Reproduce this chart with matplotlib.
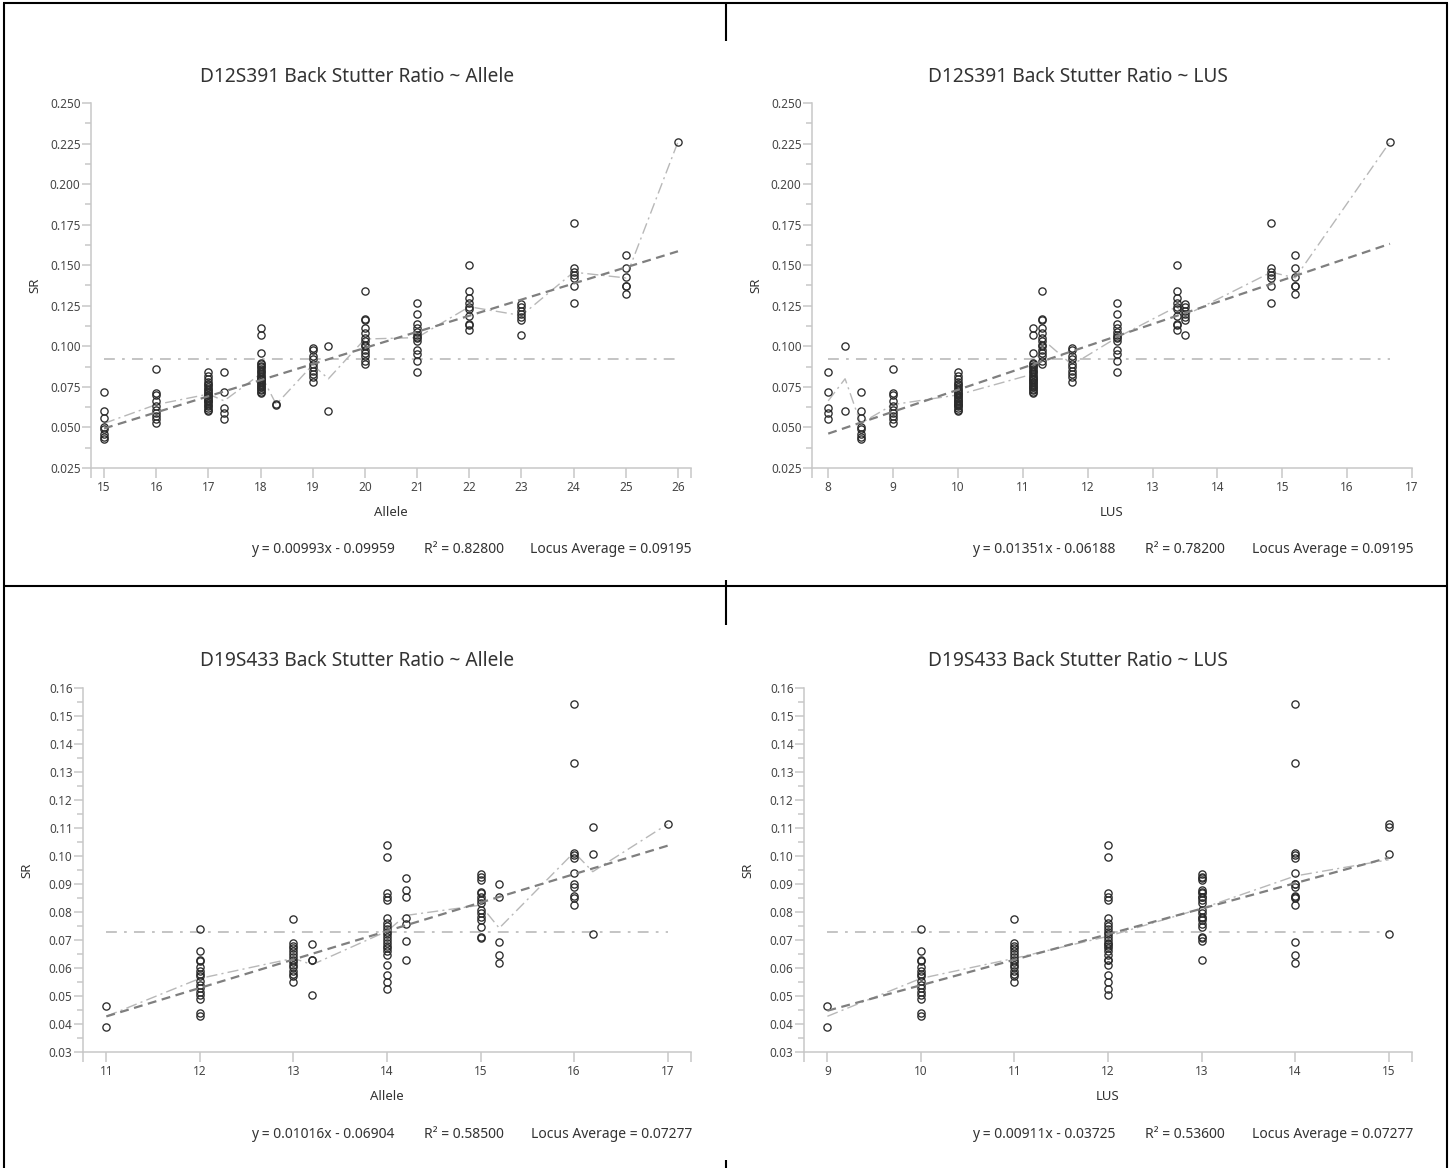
import matplotlib
matplotlib.use('Agg')
import matplotlib.pyplot as plt
from matplotlib.lines import Line2D
from matplotlib.ticker import MultipleLocator, FixedLocator, FormatStrFormatter
import numpy as np

plt.rcParams['font.family'] = ['Noto Sans', 'DejaVu Sans']

# ---------------- data ----------------
# D12S391
d12_alleles = [15, 16, 17, 17.3, 18, 18.3, 19, 19.3, 20, 21, 22, 23, 24, 25, 26]
d12_lus = [8.5, 9, 10, 8, 11.16, 10, 11.76, 8.26, 11.3, 12.45, 13.37, 13.5, 14.83, 15.2, 16.66]
d12_sr = [
    [0.072, 0.060, 0.056, 0.050, 0.049, 0.046, 0.044, 0.043],
    [0.086, 0.071, 0.070, 0.066, 0.063, 0.061, 0.059, 0.057, 0.055, 0.053],
    [0.084, 0.082, 0.080, 0.078, 0.077, 0.076, 0.075, 0.074, 0.073, 0.072, 0.071, 0.070,
     0.070, 0.069, 0.068, 0.067, 0.066, 0.066, 0.065, 0.064, 0.063, 0.062, 0.061, 0.060],
    [0.084, 0.072, 0.062, 0.059, 0.055],
    [0.111, 0.107, 0.096, 0.090, 0.089, 0.088, 0.087, 0.086, 0.085, 0.084, 0.083, 0.082, 0.081,
     0.080, 0.080, 0.079, 0.078, 0.078, 0.077, 0.076, 0.075, 0.075, 0.074, 0.073, 0.072, 0.071],
    [0.0645, 0.064],
    [0.099, 0.098, 0.094, 0.092, 0.089, 0.087, 0.085, 0.083, 0.081, 0.078],
    [0.100, 0.060],
    [0.134, 0.117, 0.116, 0.111, 0.108, 0.105, 0.103, 0.101, 0.100, 0.098, 0.096, 0.094, 0.091, 0.089],
    [0.127, 0.120, 0.114, 0.111, 0.109, 0.107, 0.106, 0.105, 0.103, 0.098, 0.095, 0.091, 0.084],
    [0.150, 0.134, 0.130, 0.127, 0.124, 0.123, 0.119, 0.114, 0.113, 0.110],
    [0.126, 0.124, 0.122, 0.120, 0.118, 0.116, 0.107],
    [0.176, 0.148, 0.146, 0.144, 0.142, 0.137, 0.127],
    [0.156, 0.148, 0.143, 0.137, 0.137, 0.132],
    [0.226],
]
d12_allele_fit = (0.00993, -0.09959, 0.82800)
d12_lus_fit = (0.01351, -0.06188, 0.78200)
d12_avg = 0.09195

# D19S433
d19_alleles = [11, 12, 13, 13.2, 14, 14.2, 15, 15.2, 16, 16.2, 17]
d19_lus = [9, 10, 11, 12, 12, 13, 13, 14, 14, 15, 15]
d19_sr = [
    [0.0465, 0.039],
    [0.074, 0.066, 0.063, 0.0625, 0.0605, 0.059, 0.058, 0.057, 0.0555, 0.054, 0.053, 0.0515,
     0.0505, 0.049, 0.044, 0.043],
    [0.0775, 0.069, 0.068, 0.067, 0.066, 0.065, 0.064, 0.063, 0.062, 0.061, 0.0605, 0.059,
     0.058, 0.057, 0.055],
    [0.0685, 0.063, 0.0628, 0.0505],
    [0.104, 0.0995, 0.0867, 0.0855, 0.0843, 0.0777, 0.076, 0.075, 0.074, 0.073, 0.072, 0.071,
     0.070, 0.069, 0.068, 0.067, 0.066, 0.0646, 0.061, 0.0575, 0.055, 0.0524],
    [0.092, 0.088, 0.0853, 0.0777, 0.0756, 0.0697, 0.063],
    [0.0935, 0.0926, 0.0914, 0.0873, 0.0867, 0.0855, 0.0843, 0.0831, 0.0807, 0.0795, 0.0783,
     0.0771, 0.0748, 0.0712, 0.0706],
    [0.090, 0.0855, 0.0694, 0.0646, 0.0617],
    [0.1544, 0.1332, 0.1012, 0.1004, 0.0992, 0.094, 0.0899, 0.089, 0.0857, 0.0849, 0.0825],
    [0.1105, 0.1007, 0.072],
    [0.1114],
]
d19_allele_fit = (0.01016, -0.06904, 0.58500)
d19_lus_fit = (0.00911, -0.03725, 0.53600)
d19_avg = 0.07277

# ---------------- figure ----------------
W, H = 1454, 1168
fig = plt.figure(figsize=(W / 100, H / 100), dpi=100)


def fx(px):
    return px / W


def fy(py):
    return 1 - py / H


def make_ax(x0, x1, y0, y1):
    return fig.add_axes([fx(x0), fy(y1), (x1 - x0) / W, (y1 - y0) / H])


AXC = '#c8c8c8'
TXT = '#333333'


def panel(ax, xs, groups, xlim, ylim, ymajor, yminor, yfmt, xticks, fit, avg):
    slope, icpt, r2 = fit
    for x, vals in zip(xs, groups):
        ax.plot([x] * len(vals), vals, 'o', ms=5.2, mfc='none', mec='#2b2b2b', mew=0.95,
                zorder=3, clip_on=False)
    ux = sorted(set(xs))
    means = [np.mean([v for x, g in zip(xs, groups) if x == u for v in g]) for u in ux]
    ax.plot(ux, means, color='#b8b8b8', lw=1.0, dashes=(8, 3, 1.5, 3), zorder=2)
    xmn, xmx = min(xs), max(xs)
    ax.plot([xmn, xmx], [avg, avg], color='#bfbfbf', lw=1.3, dashes=(6, 4, 1.5, 4), zorder=1)
    ax.plot([xmn, xmx], [slope * xmn + icpt, slope * xmx + icpt], color='#7f7f7f', lw=1.6,
            dashes=(4, 2.5), zorder=4)

    ax.set_xlim(xlim)
    ax.set_ylim(ylim)
    for s in ['top', 'right']:
        ax.spines[s].set_visible(False)
    for s in ['left', 'bottom']:
        ax.spines[s].set_color(AXC)
        ax.spines[s].set_linewidth(1.1)
    ax.xaxis.set_major_locator(FixedLocator(xticks))
    ax.xaxis.set_minor_locator(FixedLocator(list(xlim)))
    ax.yaxis.set_major_locator(MultipleLocator(ymajor))
    ax.yaxis.set_minor_locator(MultipleLocator(yminor))
    ax.yaxis.set_major_formatter(FormatStrFormatter(yfmt))
    ax.tick_params(axis='both', which='both', color=AXC, width=1.1, labelcolor='#454545',
                   labelsize=8.5)
    ax.tick_params(axis='x', which='both', length=7, pad=2.5)
    ax.tick_params(axis='y', which='major', length=6.5, pad=1)
    ax.tick_params(axis='y', which='minor', length=4.5)


def texts(title, tcx, ty, xlabel, ax_x0, ax_x1, ax_y0, ax_y1, fit, avg, eq_y):
    slope, icpt, r2 = fit
    fig.text(fx(tcx), fy(ty), title, ha='center', va='center', fontsize=13.8, color=TXT)
    fig.text(fx((ax_x0 + ax_x1) / 2), fy(ax_y1 + 45), xlabel, ha='center', va='center',
             fontsize=9.5, color=TXT)
    fig.text(fx(ax_x0 - 56), fy((ax_y0 + ax_y1) / 2), 'SR', ha='center', va='center',
             rotation=90, fontsize=9.5, color=TXT)
    sign = '-' if icpt < 0 else '+'
    fig.text(fx(ax_x1 - 440), fy(eq_y), f'y = {slope:.5f}x {sign} {abs(icpt):.5f}',
             ha='left', va='baseline', fontsize=10, color=TXT)
    fig.text(fx(ax_x1 - 267), fy(eq_y), f'R\u00b2 = {r2:.5f}', ha='left', va='baseline',
             fontsize=10, color=TXT)
    fig.text(fx(ax_x1 + 1), fy(eq_y), f'Locus Average = {avg:.5f}', ha='right',
             va='baseline', fontsize=10, color=TXT)


# Panel 1: D12S391 ~ Allele
ax1 = make_ax(91, 691, 103, 468)
panel(ax1, d12_alleles, d12_sr, (14.75, 26.25), (0.025, 0.250), 0.025, 0.0125, '%.3f',
      list(range(15, 27)), d12_allele_fit, d12_avg)
texts('D12S391 Back Stutter Ratio ~ Allele', 357, 77, 'Allele', 91, 691, 103, 468,
      d12_allele_fit, d12_avg, 553)

# Panel 2: D12S391 ~ LUS
ax2 = make_ax(812, 1412, 103, 468)
panel(ax2, d12_lus, d12_sr, (7.75, 17.0), (0.025, 0.250), 0.025, 0.0125, '%.3f',
      list(range(8, 18)), d12_lus_fit, d12_avg)
texts('D12S391 Back Stutter Ratio ~ LUS', 1078, 77, 'LUS', 812, 1412, 103, 468,
      d12_lus_fit, d12_avg, 553)

# Panel 3: D19S433 ~ Allele
ax3 = make_ax(83, 691, 688, 1052)
panel(ax3, d19_alleles, d19_sr, (10.75, 17.25), (0.03, 0.16), 0.01, 0.005, '%.2f',
      list(range(11, 18)), d19_allele_fit, d19_avg)
texts('D19S433 Back Stutter Ratio ~ Allele', 357, 661, 'Allele', 83, 691, 688, 1052,
      d19_allele_fit, d19_avg, 1138)

# Panel 4: D19S433 ~ LUS
ax4 = make_ax(804, 1412, 688, 1052)
panel(ax4, d19_lus, d19_sr, (8.75, 15.25), (0.03, 0.16), 0.01, 0.005, '%.2f',
      list(range(9, 16)), d19_lus_fit, d19_avg)
texts('D19S433 Back Stutter Ratio ~ LUS', 1078, 661, 'LUS', 804, 1412, 688, 1052,
      d19_lus_fit, d19_avg, 1138)

# ---------------- frame lines ----------------
def seg(x0, y0, x1, y1):
    fig.add_artist(Line2D([fx(x0), fx(x1)], [fy(y0), fy(y1)], color='black', lw=1.5,
                          transform=fig.transFigure, solid_capstyle='butt'))


seg(3, 3, 1448, 3)
seg(4, 3, 4, 1168)
seg(1447, 3, 1447, 1168)
seg(3, 586, 1448, 586)
seg(726, 3, 726, 41)
seg(726, 580, 726, 625)
seg(726, 1160, 726, 1168)

fig.savefig('out.png', dpi=100)
